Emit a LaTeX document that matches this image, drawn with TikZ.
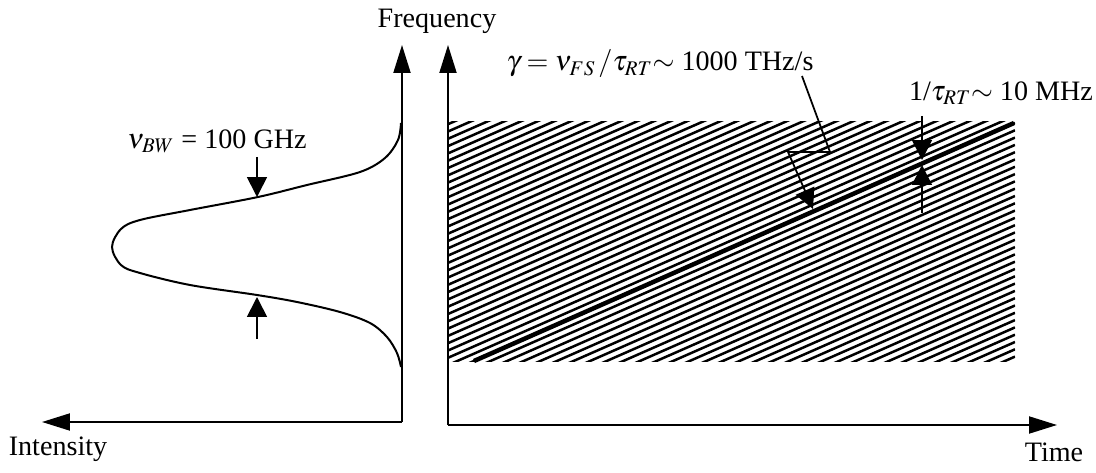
\documentclass[tikz,border=0pt]{standalone}
\usepackage{mathptmx}
\usepackage[no-math]{fontspec}
\setmainfont{Liberation Serif}
\usetikzlibrary{arrows.meta}

\begin{document}
\begin{tikzpicture}[x=0.02cm, y=-0.02cm,
  every node/.style={font=\fontsize{16}{19}\selectfont, inner sep=0pt},
  axis/.style={line width=0.04cm, -{Triangle[length=0.56cm, width=0.34cm]}},
  marker/.style={line width=0.035cm, -{Triangle[length=0.4cm, width=0.4cm]}},
  hatch/.style={line width=0.05cm},
  mode/.style={line width=0.09cm},
  spectrum/.style={line width=0.04cm}]
  \useasboundingbox (0,0) rectangle (1096,473);

  % axes of the spectrum
  \coordinate (Iorig) at (402,422);
  \coordinate (Itop) at (402,45);
  \coordinate (Iend) at (42,422);
  \draw[axis] (Iorig) -- (Itop);
  \draw[axis] (Iorig) -- (Iend);

  % axes of the chirp
  \coordinate (Torig) at (448,425);
  \coordinate (Ttop) at (448,45);
  \coordinate (Tend) at (1057,425);
  \draw[axis] (Torig) -- (Ttop);
  \draw[axis] (Torig) -- (Tend);

  \node (freq) at (437,21) {Frequency};
  \node (inten) at (58,449) {Intensity};
  \node (time) at (1054,452) {Time};

  % Gaussian spectrum
  \draw[spectrum] plot[smooth, tension=0.55] coordinates {
    (401,123)(398,140)(385,158)(360,172)(307,185)(258,197)(190,210)
    (140,220)(121,229)(112,247)(121,265)(140,273)(190,285)(257,295)
    (297,302)(340,312)(370,323)(387,337)(397,353)(401,367)};

  % bandwidth markers
  \node (bw) at (217,141) {$\nu_{BW}$ = 100 GHz};
  \coordinate (bwtop) at (257,157);
  \coordinate (bwhi) at (257,197);
  \coordinate (bwbot) at (257,339);
  \coordinate (bwlo) at (257,297);
  \draw[marker] (bwtop) -- (bwhi);
  \draw[marker] (bwbot) -- (bwlo);

  % chirped modes
  \begin{scope}
    \clip (448,122) rectangle (1015,361);
    \foreach \k in {-34,...,32}
      \draw[hatch] (448,{372.4+7.3*\k}) -- (1015,{123+7.3*\k});
  \end{scope}
  \coordinate (mstart) at (474,361);
  \coordinate (mend) at (1014,123);
  \draw[mode] (mstart) -- (mend);

  % chirp rate
  \node (rate) at (660,64) {$\gamma = \nu_{FS}\,/\tau_{RT}{\sim}$ 1000 THz/s};
  \coordinate (g1) at (802,76);
  \coordinate (g2) at (830,152);
  \coordinate (g3) at (788,152);
  \coordinate (g4) at (813,209);
  \draw[marker] (g1) -- (g2) -- (g3) -- (g4);

  % mode spacing
  \node (fsr) at (1001,93) {1/$\tau_{RT}{\sim}$ 10 MHz};
  \coordinate (d1) at (922,116);
  \coordinate (d2) at (922,160);
  \coordinate (d3) at (922,213);
  \coordinate (d4) at (922,165);
  \draw[marker] (d1) -- (d2);
  \draw[marker] (d3) -- (d4);
\end{tikzpicture}
\end{document}
